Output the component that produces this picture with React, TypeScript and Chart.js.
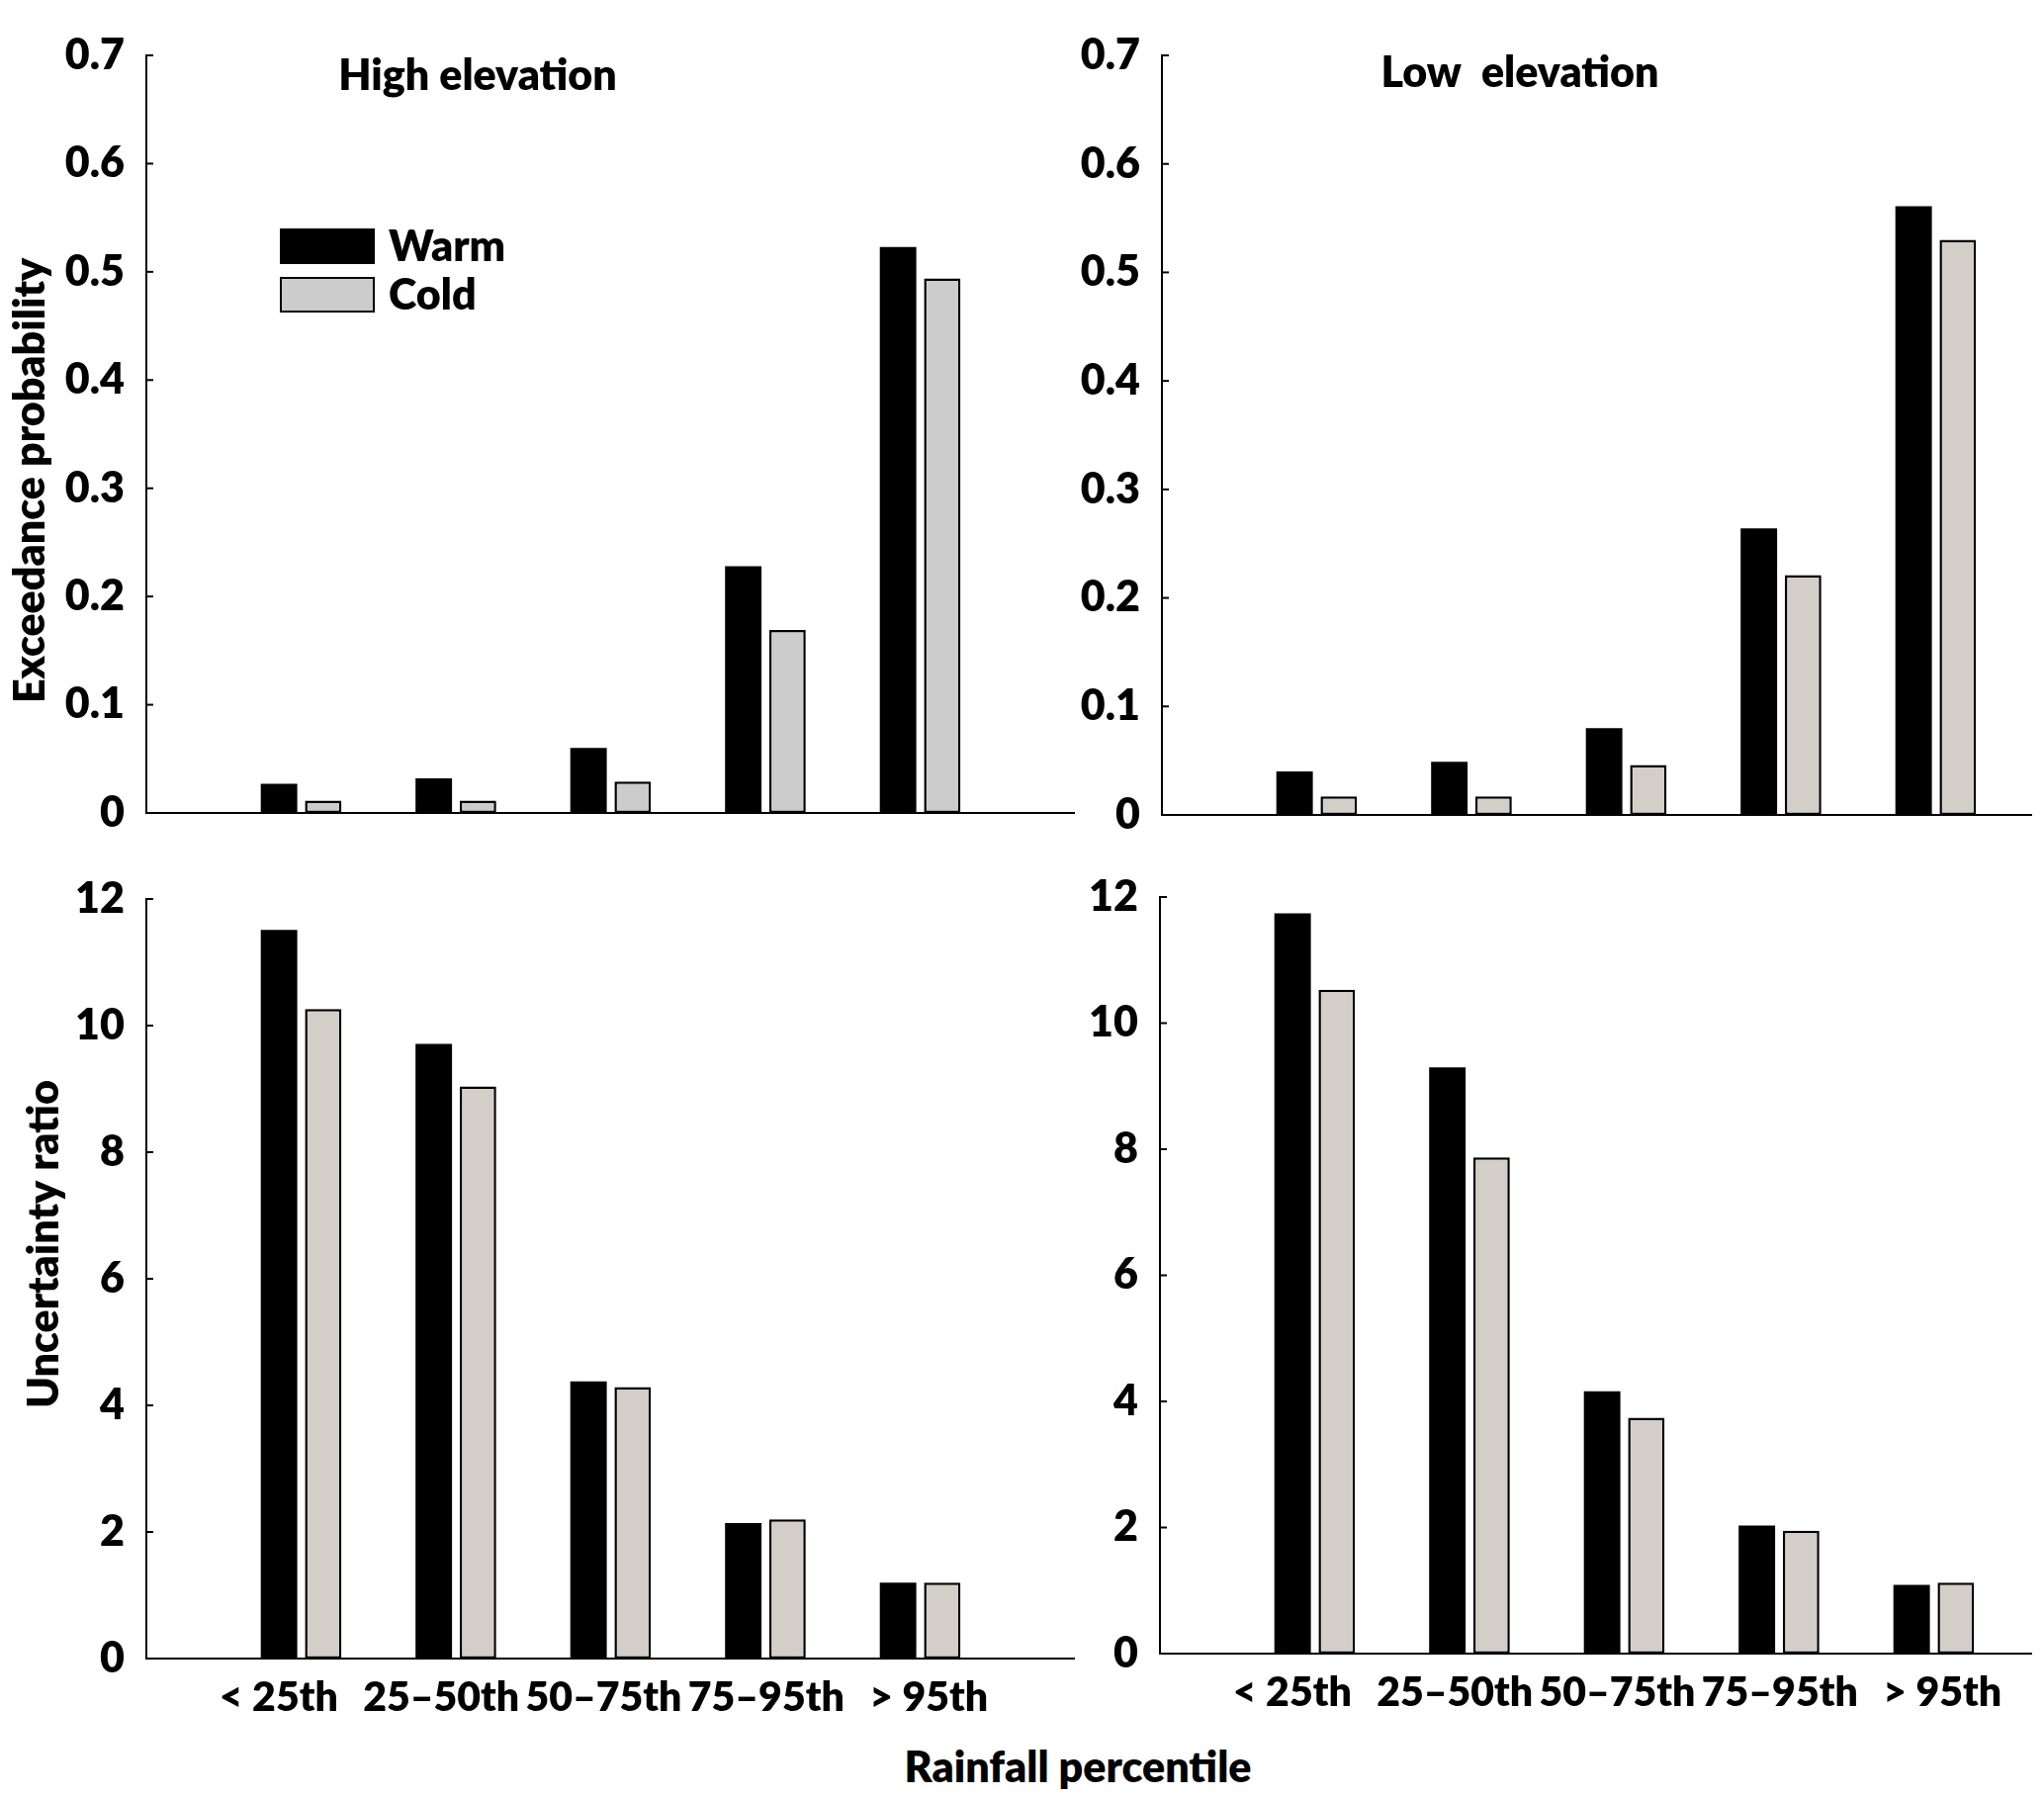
import React, { useEffect, useRef } from 'react';
import { Chart, registerables } from 'chart.js';

Chart.register(...registerables);

// ---- data ----
const categories = ['< 25th', '25–50th', '50–75th', '75–95th', '> 95th'];
const seriesNames = ['Warm', 'Cold'];

const highExceedWarm = [0.027, 0.032, 0.06, 0.228, 0.523];
const highExceedCold = [0.0115, 0.0115, 0.029, 0.169, 0.494];
const lowExceedWarm = [0.04, 0.049, 0.08, 0.264, 0.561];
const lowExceedCold = [0.017, 0.017, 0.046, 0.221, 0.53];

const highRatioWarm = [11.51, 9.71, 4.38, 2.14, 1.2];
const highRatioCold = [10.26, 9.04, 4.29, 2.2, 1.2];
const lowRatioWarm = [11.74, 9.3, 4.16, 2.03, 1.09];
const lowRatioCold = [10.53, 7.87, 3.74, 1.95, 1.125];

const exceedTicks = { min: 0, max: 0.7, step: 0.1 };
const ratioTicks = { min: 0, max: 12, step: 2 };

const FONT = 'Lato, "Open Sans", sans-serif';
const WEIGHT = '800';
const TEXT_SIZE = 43;
const XLABEL_SIZE = 41;

// padded with an empty slot on each side, like the original axes
const paddedLabels = ['', ...categories, ''];
const pad = (arr: number[]) => [null, ...arr, null];

// the category names in the figure sit a little wider apart than the bars
const LABEL_SPREAD = 1.05;
const LABEL_SHIFT = -0.045;

// draws inward tick marks, category names, panel title, y title and legend
const decorPlugin = {
   id: 'decor',
   afterDraw(chart: any, _args: any, opts: any) {
      const ctx = chart.ctx;
      const area = chart.chartArea;
      const x = chart.scales.x;
      const y = chart.scales.y;
      ctx.save();
      ctx.strokeStyle = '#000';
      ctx.lineWidth = 2;
      y.ticks.forEach((t: any) => {
         const py = y.getPixelForValue(t.value);
         ctx.beginPath();
         ctx.moveTo(area.left, py);
         ctx.lineTo(area.left + 7, py);
         ctx.stroke();
      });
      ctx.fillStyle = '#000';
      ctx.textBaseline = 'middle';
      if (opts.showX) {
         ctx.font = `${WEIGHT} ${XLABEL_SIZE}px ${FONT}`;
         ctx.textAlign = 'center';
         const mid = (categories.length + 1) / 2;
         categories.forEach((c, i) => {
            const pos = mid + (i + 1 - mid) * LABEL_SPREAD + LABEL_SHIFT;
            ctx.fillText(c, x.getPixelForValue(pos), area.bottom + 40);
         });
      }
      ctx.font = `${WEIGHT} ${TEXT_SIZE}px ${FONT}`;
      if (opts.title) {
         ctx.textAlign = 'center';
         ctx.fillText(opts.title.text, opts.title.x, opts.title.y);
      }
      if (opts.yTitle) {
         ctx.save();
         ctx.translate(opts.yTitle.x, opts.yTitle.y);
         ctx.rotate(-Math.PI / 2);
         ctx.textAlign = 'center';
         ctx.fillText(opts.yTitle.text, 0, 0);
         ctx.restore();
      }
      if (opts.legend) {
         const { x: lx, y: ly, boxW, boxH, gap } = opts.legend;
         chart.data.datasets.forEach((ds: any, i: number) => {
            const top = ly + i * (boxH + gap);
            ctx.fillStyle = ds.backgroundColor;
            ctx.fillRect(lx, top, boxW, boxH);
            ctx.strokeStyle = '#000';
            ctx.lineWidth = 2;
            ctx.strokeRect(lx + 1, top + 1, boxW - 2, boxH - 2);
            ctx.fillStyle = '#000';
            ctx.textAlign = 'left';
            ctx.fillText(ds.label, lx + boxW + 14, top + boxH / 2 + 1);
         });
      }
      ctx.restore();
   },
};

interface PanelProps {
   warm: number[];
   cold: number[];
   coldColor: string;
   ticks: { min: number; max: number; step: number };
   left: number;
   top: number;
   width: number;
   height: number;
   yAxisW: number;
   padTop: number;
   padBottom: number;
   xAxisH: number;
   decor: any;
}

const Panel = (p: PanelProps) => {
   const canvasRef = useRef<HTMLCanvasElement | null>(null);

   useEffect(() => {
      if (!canvasRef.current) return;
      const chart = new Chart(canvasRef.current, {
         type: 'bar',
         data: {
            labels: paddedLabels,
            datasets: [
               {
                  label: seriesNames[0],
                  data: pad(p.warm) as any,
                  backgroundColor: '#000',
                  borderColor: '#000',
                  borderWidth: 0,
               },
               {
                  label: seriesNames[1],
                  data: pad(p.cold) as any,
                  backgroundColor: p.coldColor,
                  borderColor: '#000',
                  borderWidth: 2.5,
                  borderSkipped: false,
               },
            ],
         },
         options: {
            responsive: false,
            animation: false,
            devicePixelRatio: 1,
            datasets: { bar: { categoryPercentage: 0.571, barPercentage: 0.826 } },
            layout: { padding: { top: p.padTop, bottom: p.padBottom, left: 0, right: 0 } },
            plugins: {
               legend: { display: false },
               tooltip: { enabled: false },
               decor: p.decor,
            } as any,
            scales: {
               x: {
                  type: 'category',
                  offset: false,
                  grid: { display: false },
                  border: { display: true, color: '#000', width: 2 },
                  ticks: { display: false },
                  afterFit: (s: any) => {
                     s.height = p.xAxisH;
                  },
               },
               y: {
                  min: p.ticks.min,
                  max: p.ticks.max,
                  grid: { display: false },
                  border: { display: true, color: '#000', width: 2 },
                  ticks: {
                     stepSize: p.ticks.step,
                     padding: 14,
                     color: '#000',
                     font: { family: FONT, size: TEXT_SIZE, weight: WEIGHT as any, lineHeight: 1.2 },
                  },
                  afterFit: (s: any) => {
                     s.width = p.yAxisW;
                  },
               },
            },
         },
         plugins: [decorPlugin],
      });
      return () => {
         chart.destroy();
      };
   }, []);

   return (
      <canvas
         ref={canvasRef}
         width={p.width}
         height={p.height}
         style={{ position: 'absolute', left: p.left, top: p.top, width: p.width, height: p.height }}
      />
   );
};

const App = () => {
   const areaW = 939;
   return (
      <div
         style={{
            position: 'absolute',
            left: 0,
            top: 0,
            width: 2067,
            height: 1818,
            overflow: 'hidden',
            background: '#fff',
         }}
      >
         <Panel
            warm={highExceedWarm}
            cold={highExceedCold}
            coldColor='#cccccc'
            ticks={exceedTicks}
            left={0}
            top={0}
            width={148 + areaW}
            height={862}
            yAxisW={148}
            padTop={56}
            padBottom={40}
            xAxisH={0}
            decor={{
               title: { text: 'High elevation', x: 483, y: 77 },
               yTitle: { text: 'Exceedance probability', x: 31, y: 486 },
               legend: { x: 283, y: 231, boxW: 96, boxH: 36, gap: 13 },
            }}
         />
         <Panel
            warm={highRatioWarm}
            cold={highRatioCold}
            coldColor='#d3cfc8'
            ticks={ratioTicks}
            left={0}
            top={860}
            width={148 + areaW}
            height={49 + 768 + 80}
            yAxisW={148}
            padTop={49}
            padBottom={0}
            xAxisH={80}
            decor={{
               showX: true,
               yTitle: { text: 'Uncertainty ratio', x: 45, y: 398 },
            }}
         />
         <div style={{ position: 'absolute', left: 1090, top: 0, width: 965, height: 1818, overflow: 'hidden' }}>
            <Panel
               warm={lowExceedWarm}
               cold={lowExceedCold}
               coldColor='#d3cfc8'
               ticks={exceedTicks}
               left={0}
               top={0}
               width={85 + areaW}
               height={864}
               yAxisW={85}
               padTop={56}
               padBottom={40}
               xAxisH={0}
               decor={{
                  title: { text: 'Low  elevation', x: 447, y: 74 },
               }}
            />
            <Panel
               warm={lowRatioWarm}
               cold={lowRatioCold}
               coldColor='#d3cfc8'
               ticks={ratioTicks}
               left={0}
               top={860}
               width={83 + areaW}
               height={47 + 765 + 80}
               yAxisW={83}
               padTop={47}
               padBottom={0}
               xAxisH={80}
               decor={{ showX: true }}
            />
         </div>
         <div
            style={{
               position: 'absolute',
               left: 1090,
               top: 1785,
               transform: 'translate(-50%, -50%)',
               font: `${WEIGHT} ${TEXT_SIZE}px ${FONT}`,
               color: '#000',
               whiteSpace: 'nowrap',
            }}
         >
            Rainfall percentile
         </div>
      </div>
   );
};

export default App;
